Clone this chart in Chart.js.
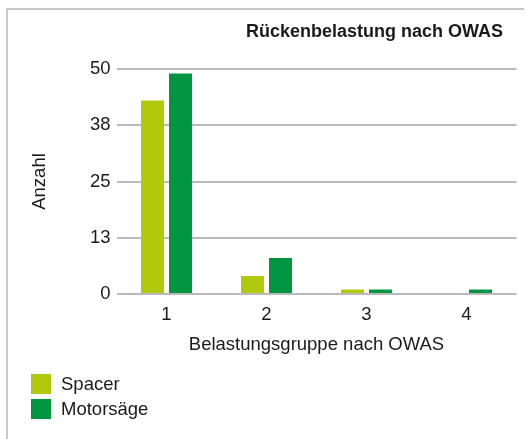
<!DOCTYPE html>
<html>
<head>
<meta charset="utf-8">
<script src="https://cdn.jsdelivr.net/npm/chart.js@4"></script>
<style>
  html, body { margin: 0; padding: 0; background: #fff; overflow: hidden; }
  body { width: 528px; height: 439px; position: relative; font-family: "Liberation Sans", Arial, sans-serif; color: #1a1a1a; }
  .hline { position: absolute; left: 6px; top: 8px; width: 518px; height: 2px; background: #c8c8c8; }
  .vline { position: absolute; left: 6px; top: 8px; width: 2px; height: 431px; background: #c8c8c8; }
  #chart { position: absolute; left: 0; top: 0; }
  .title { position: absolute; right: 25px; top: 21px; font-weight: bold; font-size: 18px; }
  .legend { position: absolute; left: 31px; top: 371.5px; }
  .legend div { display: flex; align-items: center; height: 25px; font-size: 18.5px; }
  .legend span { display: inline-block; width: 20px; height: 20px; margin-right: 10px; }
</style>
</head>
<body>
<div class="hline"></div>
<div class="vline"></div>
<canvas id="chart" width="528" height="439"></canvas>
<div class="title">Rückenbelastung nach OWAS</div>
<div class="legend" id="legend"></div>
<script>
const categories = ["1", "2", "3", "4"];
const spacer = [43, 4, 1, 0];
const motorsaege = [49, 8, 1, 1];
const yTicks = [0, 12.5, 25, 37.5, 50];

const seriesNames = ["Spacer", "Motorsäge"];
const seriesColors = ["#b1c90c", "#009540"];

const font = { family: "'Liberation Sans', Arial, sans-serif", size: 18.5 };
const textColor = "#1a1a1a";

const chart = new Chart(document.getElementById("chart"), {
  type: "bar",
  data: {
    labels: categories,
    datasets: [
      { label: seriesNames[0], data: spacer, backgroundColor: seriesColors[0] },
      { label: seriesNames[1], data: motorsaege, backgroundColor: seriesColors[1] },
    ],
  },
  options: {
    responsive: false,
    animation: false,
    categoryPercentage: 0.56,
    barPercentage: 0.82,
    layout: { padding: { left: 20, right: 11.5, top: 69, bottom: 81 } },
    plugins: {
      legend: { display: false },
      tooltip: { enabled: false },
    },
    scales: {
      x: {
        grid: { display: false },
        border: { display: false },
        ticks: { font: font, color: textColor, padding: 2 },
        title: {
          display: true,
          text: "Belastungsgruppe nach OWAS",
          font: font,
          color: textColor,
          padding: { top: 4, bottom: 2 },
        },
        afterFit: (s) => { s.height = 64; },
      },
      y: {
        min: 0,
        max: 50,
        afterBuildTicks: (s) => { s.ticks = yTicks.map((v) => ({ value: v })); },
        ticks: { font: font, color: textColor, padding: 6, callback: (v) => Math.round(v) },
        grid: { color: "#bababa", lineWidth: 2, drawTicks: false },
        border: { display: false },
        title: { display: true, text: "Anzahl", font: font, color: textColor, padding: { top: 9, bottom: 4 } },
        afterFit: (s) => { s.width = 96.5; },
      },
    },
  },
});

// legend from the chart's datasets
const legendEl = document.getElementById("legend");
chart.data.datasets.forEach((ds) => {
  const row = document.createElement("div");
  const box = document.createElement("span");
  box.style.background = ds.backgroundColor;
  row.appendChild(box);
  row.appendChild(document.createTextNode(ds.label));
  legendEl.appendChild(row);
});
</script>
</body>
</html>
